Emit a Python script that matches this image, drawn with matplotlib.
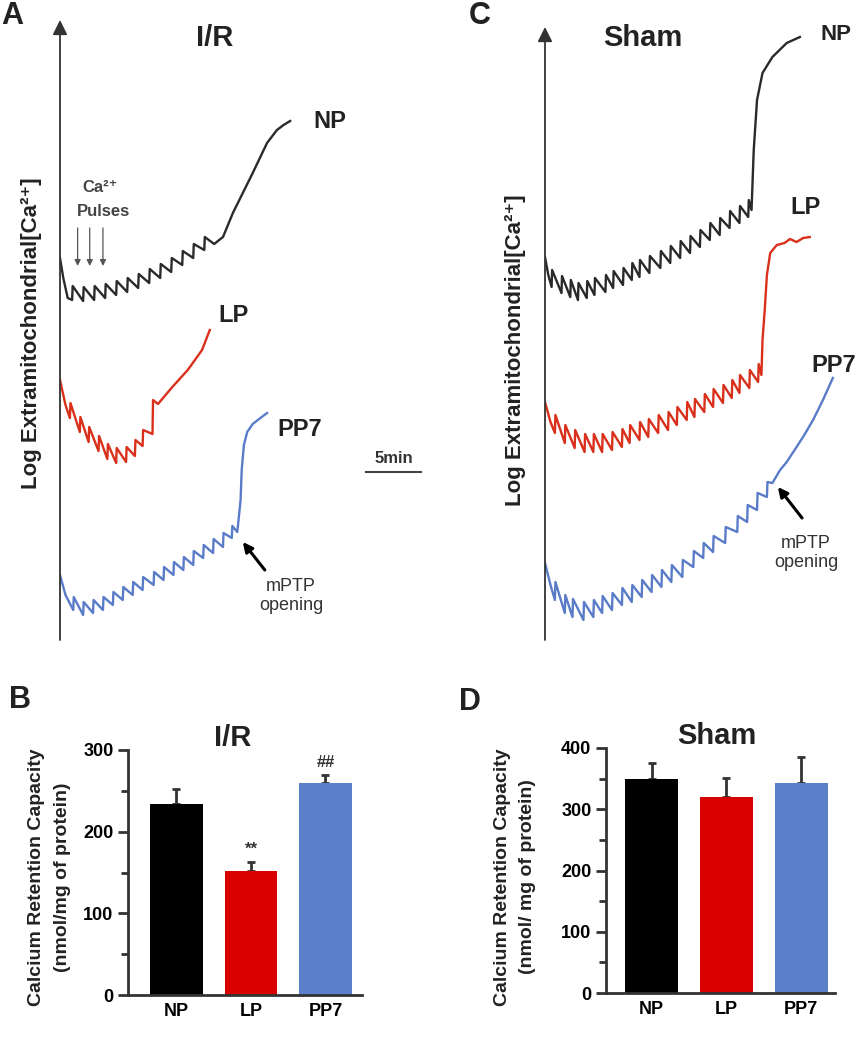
import matplotlib
matplotlib.use("Agg")
import matplotlib.pyplot as plt

W, H = 857, 1050

# ---- Panel A (I/R) traces: time in min, log [Ca2+] in a.u. ----
npir_pre_t = [0.0, 0.3, 0.7]
npir_pre_v = [392, 372, 352]
npir_pulse_t = [1.1, 2.1, 3.1, 4.1, 5.1, 6.1, 7.1, 8.1, 9.1, 10.1, 11.1, 12.1, 13.1]
npir_trough = [350, 349, 350, 352, 355, 358, 362, 367, 372, 378, 385, 392, 400]
npir_peak = [364, 363, 364, 366, 369, 372, 376, 381, 386, 392, 399, 406, 413]
npir_tail_t = [14.0, 14.8, 15.7, 16.6, 17.5, 18.8, 19.7, 20.3, 20.9]
npir_tail_v = [406, 413, 437, 457, 477, 507, 520, 525, 529]

lpir_pre_t = [0.0, 0.5]
lpir_pre_v = [270, 245]
lpir_pulse_t = [0.9, 1.8, 2.6, 3.5, 4.3, 5.1, 6.0, 6.8, 7.5, 8.4]
lpir_trough = [232, 218, 208, 199, 191, 187, 188, 194, 204, 216]
lpir_peak = [247, 233, 223, 214, 206, 202, 203, 210, 220, 250]
lpir_tail_t = [8.9, 10.2, 11.6, 12.9, 13.6]
lpir_tail_v = [246, 263, 280, 300, 320]

ppir_pre_t = [0.0, 0.5]
ppir_pre_v = [75, 55]
ppir_pulse_t = [1.2, 2.1, 3.0, 3.9, 4.8, 5.7, 6.6, 7.5, 8.5, 9.4, 10.3, 11.2,
                12.1, 13.0, 13.9, 14.8, 15.6]
ppir_trough = [40, 35, 37, 40, 45, 50, 55, 60, 65, 70, 75, 80, 85, 92, 97, 103, 112]
ppir_peak = [53, 48, 50, 53, 58, 63, 68, 73, 78, 83, 88, 93, 99, 105, 111, 117, 124]
ppir_tail_t = [16.1, 16.4, 16.5, 16.7, 17.0, 17.5, 18.2, 18.8]
ppir_tail_v = [118, 150, 180, 205, 218, 226, 232, 237]

# ---- Panel C (Sham) traces ----
npsh_pre_t = [0.0, 0.3]
npsh_pre_v = [393, 375]
npsh_pulse_t = [0.6, 1.5, 2.3, 3.0, 3.8, 4.5, 5.5, 6.2, 7.1, 7.9, 8.6, 9.5, 10.5,
                11.4, 12.3, 13.2, 14.1, 15.0, 15.9, 16.8, 17.7, 18.5]
npsh_trough = [363, 357, 353, 350, 352, 355, 358, 362, 365, 370, 373, 377, 382,
               387, 392, 397, 403, 410, 415, 422, 427, 433]
npsh_peak = [380, 374, 370, 367, 369, 372, 375, 379, 382, 387, 390, 394, 399,
             404, 409, 414, 420, 427, 432, 439, 444, 450]
npsh_tail_t = [18.8, 19.0, 19.3, 19.8, 20.7, 22.0, 23.2]
npsh_tail_v = [440, 500, 550, 577, 593, 607, 613]

lpsh_pre_t = [0.0, 0.5]
lpsh_pre_v = [248, 228]
lpsh_pulse_t = [0.9, 1.8, 2.7, 3.6, 4.4, 5.2, 6.1, 7.0, 7.7, 8.6, 9.4, 10.3,
                11.2, 12.0, 12.9, 13.6, 14.5, 15.3, 16.2, 17.0, 17.7, 18.6, 19.4]
lpsh_trough = [217, 207, 202, 198, 198, 198, 200, 203, 207, 210, 213, 217,
               220, 225, 230, 233, 238, 243, 247, 252, 257, 262, 268]
lpsh_peak = [235, 225, 220, 216, 216, 216, 218, 221, 225, 228, 231, 235,
             238, 243, 248, 251, 256, 261, 265, 270, 275, 280, 286]
lpsh_tail_t = [19.7, 19.8, 20.0, 20.2, 20.5, 21.1, 21.8, 22.3, 22.9, 23.5, 24.1]
lpsh_tail_v = [275, 310, 340, 375, 397, 405, 407, 411, 408, 412, 413]

ppsh_pre_t = [0.0, 0.5]
ppsh_pre_v = [87, 65]
ppsh_pulse_t = [0.9, 1.8, 2.5, 3.5, 4.4, 5.2, 6.1, 7.0, 7.9, 8.8, 9.7, 10.6,
                11.5, 12.5, 13.5, 14.4, 15.3, 16.4, 17.5, 18.4, 19.3, 20.2]
ppsh_trough = [50, 37, 33, 30, 33, 37, 40, 45, 48, 53, 58, 63, 68, 73, 83, 92,
               98, 107, 118, 128, 140, 153]
ppsh_peak = [68, 55, 51, 48, 50, 54, 57, 62, 65, 70, 75, 80, 85, 90, 99, 107,
             114, 123, 134, 145, 157, 168]
ppsh_tail_t = [20.7, 21.4, 22.0, 22.9, 23.6, 24.4, 25.3, 26.2]
ppsh_tail_v = [167, 180, 188, 203, 215, 230, 250, 272]

# ---- Panels B and D: calcium retention capacity ----
groups = ["NP", "LP", "PP7"]
crc_ir = [234, 152, 260]
crc_ir_err = [18, 11, 9]
crc_sham = [349, 320, 343]
crc_sham_err = [26, 31, 42]
ir_marks = ["", "**", "##"]

bar_colors = ["#000000", "#d90000", "#5b80c9"]
trace_colors = {"NP": "#2a2a2a", "LP": "#d9301c", "PP7": "#5a7cc8"}


def box(l, t, r, b):
    return [l / W, 1 - b / H, (r - l) / W, (b - t) / H]


def fpx(x, y):
    return x / W, 1 - y / H


def build_trace(pre_t, pre_v, pulse_t, trough, peak, tail_t, tail_v):
    # fast rise at each pulse, then decay to the next trough
    t = list(pre_t)
    v = list(pre_v)
    for pt, lo, hi in zip(pulse_t, trough, peak):
        t += [pt, pt + 0.05]
        v += [lo, hi]
    return t + list(tail_t), v + list(tail_v)


def trace_axes(fig, rect, xmax, ymax):
    ax = fig.add_axes(rect)
    ax.set_xlim(0, xmax)
    ax.set_ylim(10, ymax)
    for s in ax.spines.values():
        s.set_visible(False)
    ax.set_xticks([])
    ax.set_yticks([])
    ax.patch.set_alpha(0)
    ax.annotate("", xy=(0, 1), xytext=(0, 0), xycoords="axes fraction",
                arrowprops=dict(arrowstyle="-|>", color="#333333", lw=1.3,
                                mutation_scale=22, shrinkA=0, shrinkB=0))
    return ax


def bar_axes(fig, rect, values, errs, ymax, xlim):
    ax = fig.add_axes(rect)
    x = range(len(groups))
    ax.bar(x, values, width=0.7, color=bar_colors, zorder=2)
    ax.errorbar(x, values, yerr=[[0] * len(errs), errs], fmt="none",
                ecolor="#333333", elinewidth=2, capsize=3, capthick=2, zorder=1)
    ax.set_xlim(*xlim)
    ax.set_ylim(0, ymax)
    ax.set_yticks(range(0, ymax + 1, 100))
    ax.set_yticks(range(50, ymax, 100), minor=True)
    ax.set_xticks(list(x))
    ax.set_xticklabels(groups, fontsize=13, fontweight="bold")
    for lab in ax.get_yticklabels():
        lab.set_fontsize(13)
        lab.set_fontweight("bold")
    ax.tick_params(axis="y", which="major", length=7, width=2, color="#333333")
    ax.tick_params(axis="y", which="minor", length=5, width=2, color="#333333")
    ax.tick_params(axis="x", length=0, pad=6)
    for s in ["top", "right"]:
        ax.spines[s].set_visible(False)
    for s in ["left", "bottom"]:
        ax.spines[s].set_linewidth(2)
        ax.spines[s].set_color("#333333")
    return ax


def main():
    plt.rcParams["font.family"] = ["Liberation Sans", "DejaVu Sans"]
    fig = plt.figure(figsize=(W / 100, H / 100), dpi=100)

    # Panel A
    axa = trace_axes(fig, box(60, 20, 430, 640), 33.6, 630)
    for name, d in [("NP", (npir_pre_t, npir_pre_v, npir_pulse_t, npir_trough, npir_peak, npir_tail_t, npir_tail_v)),
                    ("LP", (lpir_pre_t, lpir_pre_v, lpir_pulse_t, lpir_trough, lpir_peak, lpir_tail_t, lpir_tail_v)),
                    ("PP7", (ppir_pre_t, ppir_pre_v, ppir_pulse_t, ppir_trough, ppir_peak, ppir_tail_t, ppir_tail_v))]:
        t, v = build_trace(*d)
        axa.plot(t, v, color=trace_colors[name], lw=1.7, solid_joinstyle="round")
    # Ca2+ pulse arrows
    for xa in [1.6, 2.7, 3.9]:
        axa.annotate("", xy=(xa, 384), xytext=(xa, 422),
                     arrowprops=dict(arrowstyle="-|>", color="#555555", lw=0.9,
                                     mutation_scale=9, shrinkA=0, shrinkB=0))
    # 5 min scale bar
    axa.plot([27.8, 32.8], [178, 178], color="#444444", lw=1.5)
    axa.text(30.3, 184, "5min", ha="center", va="bottom", fontsize=12,
             fontweight="bold", color="#333333")
    axa.annotate("", xy=(16.6, 108), xytext=(18.6, 80),
                 arrowprops=dict(arrowstyle="-|>", color="k", lw=2.2,
                                 mutation_scale=14, shrinkA=0, shrinkB=0))

    # Panel C
    axc = trace_axes(fig, box(545, 27, 857, 640), 28.4, 623)
    for name, d in [("NP", (npsh_pre_t, npsh_pre_v, npsh_pulse_t, npsh_trough, npsh_peak, npsh_tail_t, npsh_tail_v)),
                    ("LP", (lpsh_pre_t, lpsh_pre_v, lpsh_pulse_t, lpsh_trough, lpsh_peak, lpsh_tail_t, lpsh_tail_v)),
                    ("PP7", (ppsh_pre_t, ppsh_pre_v, ppsh_pulse_t, ppsh_trough, ppsh_peak, ppsh_tail_t, ppsh_tail_v))]:
        t, v = build_trace(*d)
        axc.plot(t, v, color=trace_colors[name], lw=1.7, solid_joinstyle="round")
    axc.annotate("", xy=(21.2, 163), xytext=(23.4, 132),
                 arrowprops=dict(arrowstyle="-|>", color="k", lw=2.2,
                                 mutation_scale=14, shrinkA=0, shrinkB=0))

    # Panels B and D
    axb = bar_axes(fig, box(128, 750, 362, 995), crc_ir, crc_ir_err, 300, (-0.65, 2.49))
    for i, m in enumerate(ir_marks):
        if m:
            axb.text(i, crc_ir[i] + crc_ir_err[i] + 6, m, ha="center", va="bottom",
                     fontsize=12, fontweight="bold", color="#333333", clip_on=False)
    bar_axes(fig, box(606, 748, 835, 993), crc_sham, crc_sham_err, 400, (-0.61, 2.45))

    # text labels
    bold = dict(fontweight="bold", ha="center", va="center", color="#222222")
    for s, x, y, fs in [("A", 12, 16, 22), ("C", 480, 16, 22), ("B", 20, 700, 22), ("D", 470, 702, 22),
                        ("I/R", 215, 38, 21), ("Sham", 643, 38, 21), ("I/R", 233, 738, 21), ("Sham", 717, 736, 21),
                        ("NP", 330, 122, 17), ("LP", 233, 315, 17), ("PP7", 300, 430, 17),
                        ("NP", 836, 35, 16), ("LP", 806, 207, 17), ("PP7", 834, 366, 17)]:
        fig.text(*fpx(x, y), s, fontsize=fs, **bold)
    fig.text(*fpx(100, 187), "Ca²⁺", fontsize=12, ha="center", va="center", color="#444444",
             fontweight="bold", family=["Liberation Sans", "DejaVu Sans"])
    fig.text(*fpx(104, 211), "Pulses", fontsize=12, ha="center", va="center", color="#444444",
             fontweight="bold")
    fig.text(*fpx(291, 596), "mPTP\nopening", fontsize=13, ha="center", va="center",
             color="#333333", linespacing=1.1)
    fig.text(*fpx(806, 553), "mPTP\nopening", fontsize=13, ha="center", va="center",
             color="#333333", linespacing=1.1)
    ylab = "Log Extramitochondrial[Ca²⁺]"
    fig.text(*fpx(32, 333), ylab, fontsize=16, rotation=90, **bold)
    fig.text(*fpx(515, 350), ylab, fontsize=16, rotation=90, **bold)
    for x0, unit in [(37, "(nmol/mg of protein)"), (502, "(nmol/ mg of protein)")]:
        fig.text(*fpx(x0, 877), "Calcium Retention Capacity", fontsize=14, rotation=90, **bold)
        fig.text(*fpx(x0 + 26, 877), unit, fontsize=14, rotation=90, **bold)

    fig.savefig("out.png", dpi=100)


if __name__ == "__main__":
    main()
